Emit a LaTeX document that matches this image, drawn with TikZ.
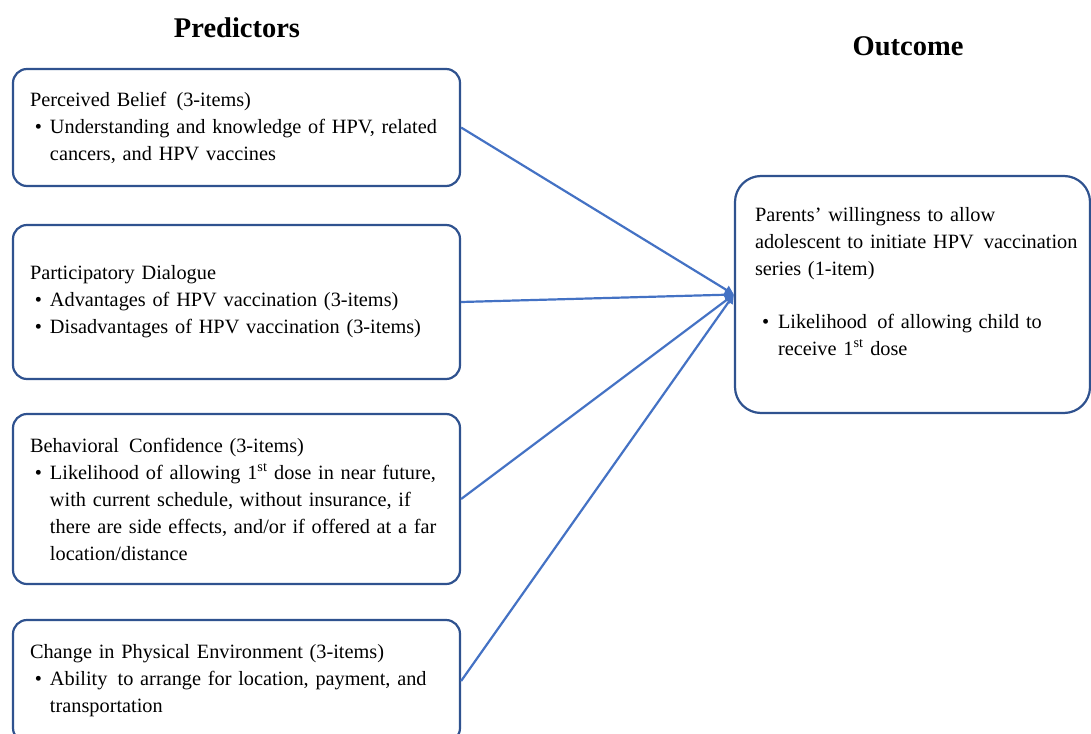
\documentclass[tikz,border=0pt]{standalone}
\usepackage{fontspec}
\setmainfont{Liberation Serif}
\usetikzlibrary{arrows.meta}
\definecolor{boxblue}{HTML}{2F528F}
\definecolor{lineblue}{HTML}{4472C4}
\newcommand{\bl}{\hspace*{5pt}\makebox[15pt][l]{\textbullet}}
\newcommand{\cl}{\hspace*{20pt}}
\begin{document}
\begin{tikzpicture}[x=1pt,y=-1pt,
  predbox/.style={draw=boxblue, line width=2.2pt, rounded corners=14pt, fill=white,
    text width=413pt, inner xsep=17pt, minimum width=447pt, align=left,
    font=\fontsize{20.3}{27}\selectfont},
  outbox/.style={draw=boxblue, line width=2.2pt, rounded corners=26pt, fill=white,
    text width=335pt, inner xsep=10pt, minimum width=355pt, minimum height=237pt, align=left,
    font=\fontsize{20.3}{27}\selectfont},
  head/.style={font=\fontsize{28.5}{32}\selectfont\bfseries},
  conn/.style={draw=lineblue, line width=2.2pt, -{Triangle[length=9pt,width=9pt]}}]
\useasboundingbox (0,0) rectangle (1091,733);
\node[head] (hp) at (237,28) {Predictors};
\node[head] (ho) at (908,46) {Outcome};
\node[predbox, minimum height=117pt] (b1) at (236.5,127.5) {Perceived Belief\, (3-items)\\
\bl Understanding and knowledge of HPV, related\\
\cl cancers, and HPV vaccines};
\node[predbox, minimum height=154pt] (b2) at (236.5,302) {Participatory Dialogue\\
\bl Advantages of HPV vaccination (3-items)\\
\bl Disadvantages of HPV vaccination (3-items)};
\node[predbox, minimum height=170pt] (b3) at (236.5,499) {Behavioral\, Confidence (3-items)\\
\bl Likelihood of allowing 1\textsuperscript{st} dose in near future,\\
\cl with current schedule, without insurance, if\\
\cl there are side effects, and/or if offered at a far\\
\cl location/distance};
\node[predbox, minimum height=122pt] (b4) at (236.5,681) {Change in Physical Environment (3-items)\\
\bl Ability\, to arrange for location, payment, and\\
\cl transportation};
\node[outbox] (out) at (912.5,294.5) {\hspace*{10pt}Parents' willingness to allow\\
\hspace*{10pt}adolescent to initiate HPV\, vaccination\\
\hspace*{10pt}series (1-item)\\[26pt]
\hspace*{17pt}\makebox[16pt][l]{\textbullet}Likelihood\, of allowing child to\\
\hspace*{33pt}receive 1\textsuperscript{st} dose\\
\rule{0pt}{20pt}};
\draw[conn] (b1.east) -- (out.west);
\draw[conn] (b2.east) -- (out.west);
\draw[conn] (b3.east) -- (out.west);
\draw[conn] (b4.east) -- (out.west);
\end{tikzpicture}
\end{document}
